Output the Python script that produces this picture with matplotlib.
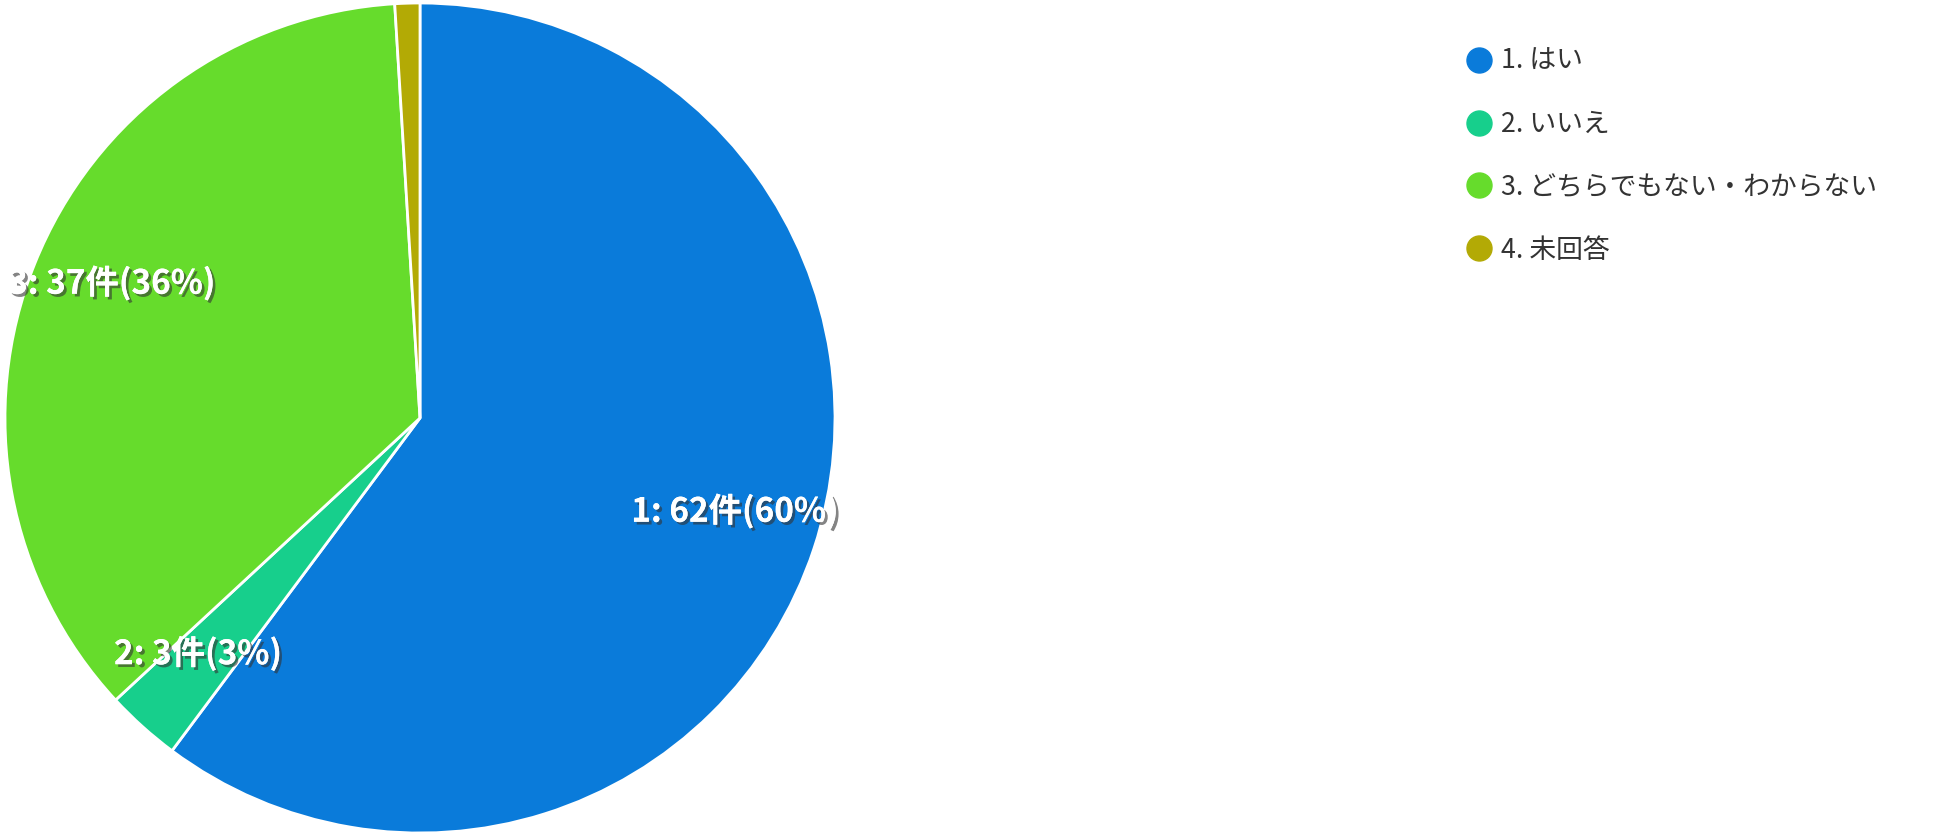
import matplotlib
matplotlib.use("Agg")
import matplotlib.pyplot as plt
import matplotlib.patheffects as pe
from matplotlib.lines import Line2D
import numpy as np

plt.rcParams["font.family"] = ["Noto Sans CJK JP", "DejaVu Sans"]

# データ
codes = ["1", "2", "3", "4"]
labels = ["1. はい", "2. いいえ", "3. どちらでもない・わからない", "4. 未回答"]
counts = [62, 3, 37, 1]
colors = ["#0a7bda", "#17cf8c", "#66dc2c", "#b3aa05"]

total = sum(counts)
fig = plt.figure(figsize=(19.39, 8.32), dpi=100)
ax = fig.add_axes([5 / 1939, (832 - 418 - 415) / 832, 830 / 1939, 830 / 832])

wedges, _ = ax.pie(counts, colors=colors, startangle=90, counterclock=False,
                   radius=1, wedgeprops=dict(edgecolor="white", linewidth=2))
ax.set_xlim(-1, 1); ax.set_ylim(-1, 1)
ax.set_aspect("equal"); ax.axis("off")

# スライス内ラベル(4は小さいので省略)
cum = 0
for code, n in zip(codes, counts):
    mid = (cum + n / 2) / total
    cum += n
    if n / total < 0.02:
        continue
    a = np.deg2rad(90 - mid * 360)
    ax.text(0.8 * np.cos(a), 0.8 * np.sin(a) + 0.027,
            f"{code}: {n}件({round(100 * n / total)}%)",
            ha="center", va="center", color="white", fontsize=24, fontweight="bold",
            path_effects=[pe.withSimplePatchShadow(offset=(2, -2), shadow_rgbFace="#333333", alpha=0.6),
                          pe.Normal()])

handles = [Line2D([], [], marker="o", ls="", markersize=18, markerfacecolor=c,
                  markeredgecolor=c) for c in colors]
fig.legend(handles, labels, loc="upper left", bbox_to_anchor=(1467 / 1939, 1 - 48 / 832),
           frameon=False, fontsize=19.3, handlelength=0.9, handletextpad=0.37,
           labelspacing=1.34, labelcolor="#333333", borderaxespad=0, borderpad=0)

fig.savefig("out.png", dpi=100, facecolor="white")
